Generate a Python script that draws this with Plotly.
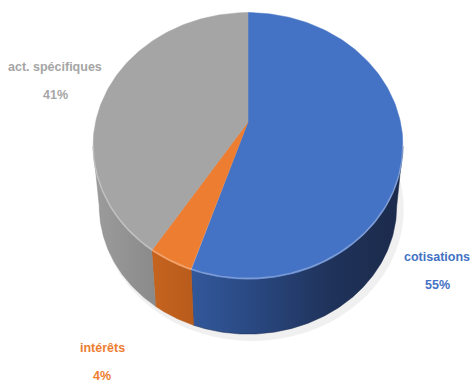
import numpy as np
import plotly.graph_objects as go

# ---- data ----
labels = ["cotisations", "intérêts", "act. spécifiques"]
values = [55, 4, 41]
top_colors = ["#4472C4", "#ED7D31", "#A5A5A5"]
wall_scales = [
    ["#32589B", "#28467D", "#1F3259", "#1B2A4B"],
    ["#C6641F", "#B85B1B"],
    ["#9C9C9C", "#8A8A8A"],
]
label_colors = ["#4472C4", "#ED7D31", "#A5A5A5"]

# ---- geometry of the pseudo-3D pie (pixel space) ----
W, H = 471, 383
CX, CY = 248.0, 122.0      # projected centre (apex of slices)
SX, SY = 152.4, 129.1      # scale of the top face
A = 0.18                   # perspective factor
ECY = CY + SY * A / (1 - A * A)   # centre of the top ellipse
DEPTH, TAPER = 60.0, 0.96

def top_pt(t):
    d = 1 + A * np.sin(t)
    return CX + SX * np.cos(t) / d, CY - SY * np.sin(t) / d

def bot_pt(t):
    x, y = top_pt(t)
    return CX + (x - CX) * TAPER, ECY + (y - ECY) * TAPER + DEPTH

total = float(sum(values))
cum = np.concatenate([[0], np.cumsum(values)]) / total
t_starts = np.pi / 2 - 2 * np.pi * cum[:-1]
t_ends = np.pi / 2 - 2 * np.pi * cum[1:]
front_lo, front_hi = -np.pi + np.arcsin(A), -np.arcsin(A)

fig = go.Figure()

# soft shadow
ts_all = np.linspace(-np.pi, np.pi, 200)
bx, by = bot_pt(ts_all)
fig.add_trace(go.Scatter(x=CX + (bx - CX) * 1.02 + 4, y=ECY + DEPTH + (by - ECY - DEPTH) * 1.03 + 3,
                         fill="toself", fillcolor="rgba(0,0,0,0.06)", mode="none",
                         hoverinfo="skip", showlegend=False))

# walls
for i in range(len(values)):
    lo = max(t_ends[i], front_lo)
    hi = min(t_starts[i], front_hi)
    if lo >= hi:
        continue
    ts = np.linspace(lo, hi, 120)
    tx, ty = top_pt(ts)
    bx, by = bot_pt(ts[::-1])
    xs = np.concatenate([tx, bx, tx[:1]])
    ys = np.concatenate([ty, by, ty[:1]])
    sc = wall_scales[i]
    cs = [[k / (len(sc) - 1), c] for k, c in enumerate(sc)]
    fig.add_trace(go.Scatter(x=xs, y=ys, fill="toself", mode="lines",
                             line=dict(width=0.5, color=sc[-1]),
                             fillgradient=dict(type="horizontal", colorscale=cs),
                             hoverinfo="skip", showlegend=False))

# top faces
for i in range(len(values)):
    ts = np.linspace(t_starts[i], t_ends[i], 160)
    tx, ty = top_pt(ts)
    xs = np.concatenate([[CX], tx, [CX]])
    ys = np.concatenate([[CY], ty, [CY]])
    fig.add_trace(go.Scatter(x=xs, y=ys, fill="toself", fillcolor=top_colors[i],
                             mode="lines", line=dict(width=0.5, color=top_colors[i]),
                             name=labels[i], hoverinfo="name", showlegend=False))

# rim highlight
ts = np.linspace(front_lo, front_hi, 200)
rx, ry = top_pt(ts)
fig.add_trace(go.Scatter(x=rx, y=ry - 1, mode="lines",
                         line=dict(width=1.5, color="rgba(255,255,255,0.30)"),
                         hoverinfo="skip", showlegend=False))

# labels
font_family = "Liberation Sans, Arial, sans-serif"
label_pos = [(437, 257), (102, 348), (55, 67)]
for i, (lx, ly) in enumerate(label_pos):
    pct = f"{round(values[i] / total * 100)}%"
    for j, txt in enumerate([labels[i], pct]):
        fig.add_annotation(x=lx, y=ly + 28 * j, text=f"<b>{txt}</b>", showarrow=False,
                           xanchor="center", yanchor="middle",
                           font=dict(family=font_family, size=12.5, color=label_colors[i]))

fig.update_xaxes(range=[0, W], visible=False, fixedrange=True)
fig.update_yaxes(range=[H, 0], visible=False, fixedrange=True)
fig.update_layout(width=W, height=H, autosize=False,
                  margin=dict(l=0, r=0, t=0, b=0),
                  paper_bgcolor="white", plot_bgcolor="white")

fig.write_html("out.html")
